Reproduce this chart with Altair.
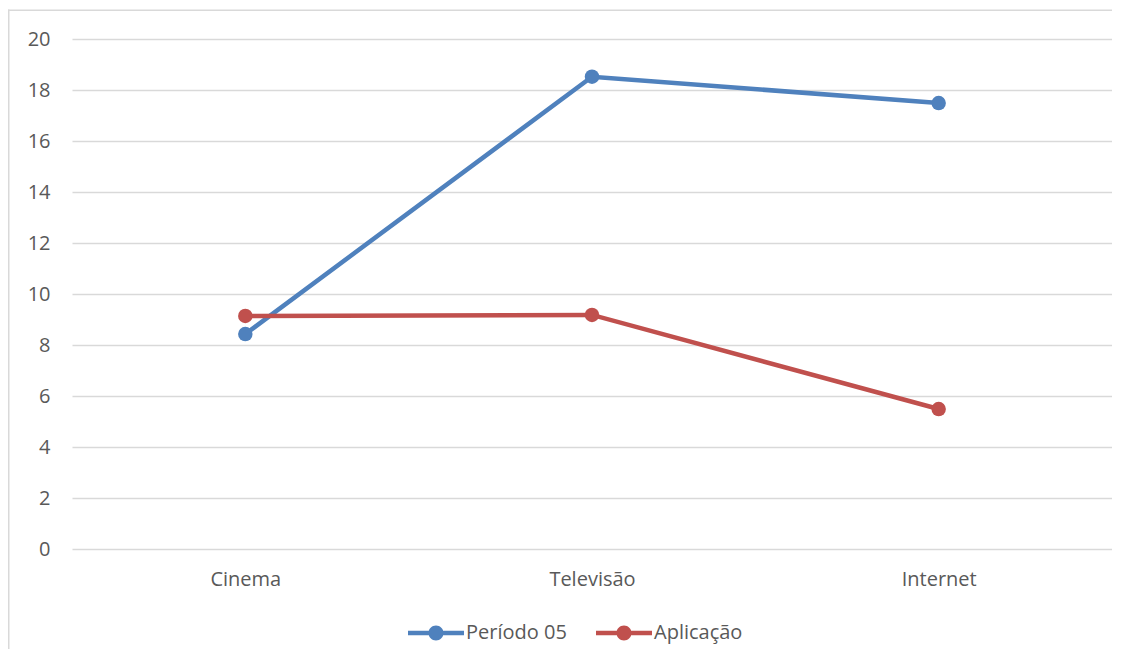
import altair as alt
import pandas as pd

categories = ["Cinema", "Televisão", "Internet"]
periodo_05 = [8.43, 18.52, 17.49]
aplicacao = [9.14, 9.18, 5.49]
series_names = ["Período 05", "Aplicação"]
series_colors = ["#4f81bd", "#c0504d"]
y_ticks = [0, 2, 4, 6, 8, 10, 12, 14, 16, 18, 20]

rows = []
for c, v in zip(categories, periodo_05):
    rows.append({"Categoria": c, "Série": series_names[0], "Valor": v})
for c, v in zip(categories, aplicacao):
    rows.append({"Categoria": c, "Série": series_names[1], "Valor": v})
df = pd.DataFrame(rows)

FONT = "Open Sans"
# legend glyph: a horizontal bar with a dot in the middle (unit scale = 8px)
legend_path = ("M-3.5,-0.28 L3.5,-0.28 L3.5,0.28 L-3.5,0.28 Z "
               "M-0.94,0 A0.94,0.94 0 1,1 0.94,0 A0.94,0.94 0 1,1 -0.94,0 Z")

x_enc = alt.X("Categoria:N", sort=categories, title=None,
              scale=alt.Scale(paddingInner=0, paddingOuter=0, align=0.5),
              axis=alt.Axis(labelAngle=0, labelFont=FONT, labelFontSize=20,
                            labelColor="#595959", labelPadding=20, ticks=False,
                            domain=False, grid=False))
y_enc = alt.Y("Valor:Q", title=None,
              scale=alt.Scale(domain=[0, 20], nice=False),
              axis=alt.Axis(values=y_ticks, labelFont=FONT, labelFontSize=20,
                            labelColor="#595959", labelPadding=22, ticks=False,
                            domain=False, gridColor="#d9d9d9", gridWidth=1.3))
color_enc = alt.Color("Série:N",
                      scale=alt.Scale(domain=series_names, range=series_colors),
                      legend=alt.Legend(title=None, orient="none", legendX=354,
                                        legendY=584, direction="horizontal",
                                        symbolType=legend_path, symbolSize=256,
                                        symbolStrokeWidth=0, symbolOpacity=1,
                                        labelFont=FONT, labelFontSize=20,
                                        labelColor="#595959", labelOffset=20,
                                        columnPadding=29))

base = alt.Chart(df).encode(x=x_enc, y=y_enc, color=color_enc,
                            detail="Série:N")
lines = base.mark_line(strokeWidth=4.5)
points = base.mark_point(filled=True, size=210, opacity=1)

frame_df = pd.DataFrame({"a": [0]})
top_border = alt.Chart(frame_df).mark_rect(color="#d9d9d9").encode(
    x=alt.value(-64), x2=alt.value(1059), y=alt.value(-29.5), y2=alt.value(-28))
left_border = alt.Chart(frame_df).mark_rect(color="#d9d9d9").encode(
    x=alt.value(-64), x2=alt.value(-62.5), y=alt.value(-29.5), y2=alt.value(640))

chart = alt.layer(top_border, left_border, lines, points).properties(
    width=1040, height=510,
    autosize=alt.AutoSizeParams(type="none"),
    padding={"left": 64, "top": 31, "right": 0, "bottom": 100},
).configure(background="white").configure_view(stroke=None)

chart.save("out.html", embed_options={"renderer": "svg", "actions": False})
